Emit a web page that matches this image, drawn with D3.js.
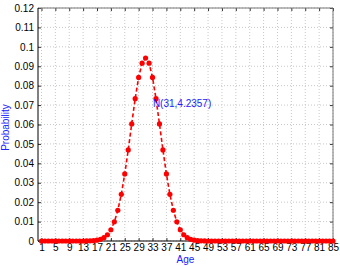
<!DOCTYPE html>
<html>
<head>
<meta charset="utf-8">
<script src="https://cdn.jsdelivr.net/npm/d3@7"></script>
<style>
  body { margin: 0; background: #fff; }
  text { font-family: "Liberation Sans", Arial, sans-serif; }
</style>
</head>
<body>
<div id="chart"></div>
<script>
const ages = d3.range(1, 86);
const probability = [
  0, 0, 0, 0, 0, 0, 0, 0, 0, 0, 0, 0,
  0.00001, 0.00003, 0.00008, 0.00018, 0.0004, 0.00085, 0.0017, 0.00323, 0.0058,
  0.00986, 0.01583, 0.02404, 0.03454, 0.04693, 0.0603, 0.0733, 0.08425, 0.0916,
  0.09419,
  0.0916, 0.08425, 0.0733, 0.0603, 0.04693, 0.03454, 0.02404, 0.01583, 0.00986,
  0.0058, 0.00323, 0.0017, 0.00085, 0.0004, 0.00018, 0.00008, 0.00003, 0.00001,
  0, 0, 0, 0, 0, 0, 0, 0, 0, 0, 0, 0, 0, 0, 0, 0, 0, 0,
  0, 0, 0, 0, 0, 0, 0, 0, 0, 0, 0, 0, 0, 0, 0, 0, 0, 0
];
const xTicks = [1, 5, 9, 13, 17, 21, 25, 29, 33, 37, 41, 45, 49, 53, 57, 61, 65, 69, 73, 77, 81, 85];
const yTicks = [0, 0.01, 0.02, 0.03, 0.04, 0.05, 0.06, 0.07, 0.08, 0.09, 0.1, 0.11, 0.12];
const annotation = 'N(31,4.2357)';

const width = 340, height = 266;
const margin = { top: 8, right: 7, bottom: 25, left: 38 };
const w = width - margin.left - margin.right;
const h = height - margin.top - margin.bottom;

const svg = d3.select('#chart').append('svg')
  .attr('width', width)
  .attr('height', height);

const g = svg.append('g')
  .attr('transform', `translate(${margin.left},${margin.top})`);

const x = d3.scaleLinear().domain([0, 85]).range([0, w]);
const y = d3.scaleLinear().domain([0, 0.12]).range([h, 0]);

// grid
g.append('g').selectAll('line').data(xTicks).enter().append('line')
  .attr('x1', d => x(d)).attr('x2', d => x(d))
  .attr('y1', 0).attr('y2', h)
  .attr('stroke', '#c8c8c8').attr('stroke-width', 1)
  .attr('stroke-dasharray', '1,2');
g.append('g').selectAll('line').data(yTicks).enter().append('line')
  .attr('x1', 0).attr('x2', w)
  .attr('y1', d => y(d)).attr('y2', d => y(d))
  .attr('stroke', '#c8c8c8').attr('stroke-width', 1)
  .attr('stroke-dasharray', '1,2');

// axes (ticks inward, labels outside)
const yFmt = d => d3.format('~g')(+d.toFixed(2));
g.append('g')
  .attr('transform', `translate(0,${h})`)
  .call(d3.axisBottom(x).tickValues(xTicks).tickSizeInner(-3).tickSizeOuter(0).tickPadding(3));
g.append('g')
  .call(d3.axisLeft(y).tickValues(yTicks).tickFormat(yFmt).tickSizeInner(-3).tickSizeOuter(0).tickPadding(4));
g.append('g')
  .call(d3.axisTop(x).tickValues(xTicks).tickSizeInner(-3).tickSizeOuter(0).tickFormat(''));
g.append('g')
  .attr('transform', `translate(${w},0)`)
  .call(d3.axisRight(y).tickValues(yTicks).tickSizeInner(-3).tickSizeOuter(0).tickFormat(''));

svg.selectAll('.domain').remove();
g.selectAll('.tick line').attr('stroke', '#333');
g.selectAll('.tick text').attr('font-size', 10).attr('fill', '#000')
  .style('font-family', '"Liberation Sans", Arial, sans-serif');

// box
g.append('line').attr('x1', 0).attr('x2', w).attr('y1', 0).attr('y2', 0).attr('stroke', '#777');
g.append('line').attr('x1', w).attr('x2', w).attr('y1', 0).attr('y2', h).attr('stroke', '#777');
g.append('line').attr('x1', 0).attr('x2', w).attr('y1', h).attr('y2', h).attr('stroke', '#000');
g.append('line').attr('x1', 0).attr('x2', 0).attr('y1', 0).attr('y2', h).attr('stroke', '#000');

// series
const data = ages.map((a, i) => ({ age: a, p: probability[i] }));
const line = d3.line().x(d => x(d.age)).y(d => y(d.p));

g.append('path')
  .datum(data)
  .attr('fill', 'none')
  .attr('stroke', '#ff0000')
  .attr('stroke-width', 1.6)
  .attr('stroke-dasharray', '4,2.5')
  .attr('d', line);

g.selectAll('.dot').data(data).enter().append('circle')
  .attr('class', 'dot')
  .attr('cx', d => x(d.age))
  .attr('cy', d => y(d.p))
  .attr('r', 2.6)
  .attr('fill', '#ff0000');

// labels
g.append('text')
  .attr('x', x(33.1))
  .attr('y', y(0.0688))
  .attr('font-size', 10)
  .attr('fill', '#2020ff')
  .text(annotation);

svg.append('text')
  .attr('x', margin.left + w / 2)
  .attr('y', 263)
  .attr('text-anchor', 'middle')
  .attr('font-size', 10)
  .attr('fill', '#2020ff')
  .text('Age');

svg.append('text')
  .attr('transform', `translate(9,${margin.top + h / 2 + 3}) rotate(-90)`)
  .attr('text-anchor', 'middle')
  .attr('font-size', 10)
  .attr('fill', '#2020ff')
  .text('Probability');
</script>
</body>
</html>
